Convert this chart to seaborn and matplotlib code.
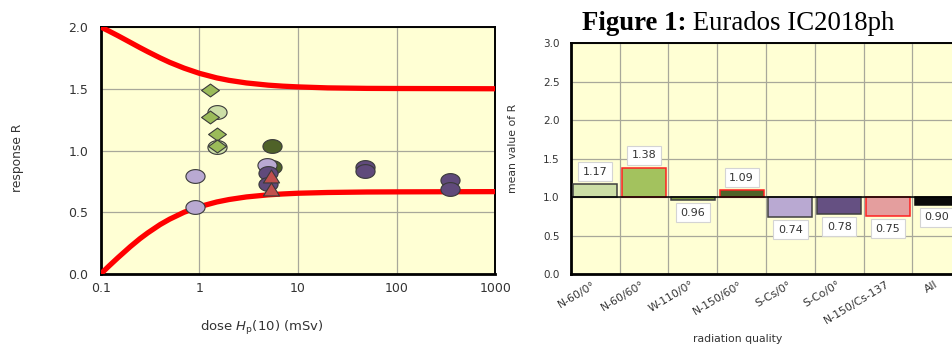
import matplotlib
matplotlib.use("Agg")
import matplotlib.pyplot as plt
import numpy as np
import seaborn as sns
from matplotlib.path import Path
from matplotlib.ticker import FixedLocator, FixedFormatter, NullLocator

# ─────────────────────────────────────────────
# DATA
# ─────────────────────────────────────────────
# trumpet curve limits
limit_dose = [0.1, 0.12, 0.15, 0.2, 0.25, 0.3, 0.4, 0.5, 0.7, 1, 1.5, 2, 3, 5, 7, 10, 20, 50, 100, 1000]
limit_upper = [2.0, 1.969, 1.929, 1.875, 1.833, 1.80, 1.75, 1.714, 1.667, 1.625, 1.588,
               1.568, 1.547, 1.529, 1.521, 1.515, 1.507, 1.503, 1.502, 1.50]
limit_lower = [0.0, 0.061, 0.133, 0.222, 0.286, 0.333, 0.40, 0.444, 0.50, 0.545, 0.583,
               0.603, 0.624, 0.641, 0.648, 0.654, 0.660, 0.664, 0.665, 0.667]

# individual responses, one group per radiation quality
n60_0_dose = [1.5, 1.5]
n60_0_resp = [1.31, 1.03]
n60_60_dose = [1.28, 1.27, 1.5, 1.5]
n60_60_resp = [1.49, 1.27, 1.13, 1.04]
n150_60_dose = [5.5, 5.5]
n150_60_resp = [1.04, 0.87]
scs_dose = [0.9, 0.9, 4.8]
scs_resp = [0.79, 0.54, 0.88]
sco_dose = [5.0, 5.0, 48, 48, 350, 350]
sco_resp = [0.82, 0.73, 0.87, 0.83, 0.76, 0.69]
n150cs_dose = [5.3, 5.3]
n150cs_resp = [0.79, 0.69]

# mean response per radiation quality (right panel)
qualities = ["N-60/0°", "N-60/60°", "W-110/0°", "N-150/60°", "S-Cs/0°", "S-Co/0°", "N-150/Cs-137", "All"]
mean_r = [1.17, 1.38, 0.96, 1.09, 0.74, 0.78, 0.75, 0.90]
bar_colors = ["#CCDEA6", "#A3C25E", "#77933C", "#4F6228", "#B9A9D2", "#655082", "#E49E9E", "#0A0A0A"]
bar_edges = ["#404040", "#FF2020", "#404040", "#FF2020", "#404040", "#404040", "#FF2020", "#0A0A0A"]

# ─────────────────────────────────────────────
# STYLE
# ─────────────────────────────────────────────
BG = "#FFFFD4"
GRID = "#A8A89A"
TXT = "#333333"

plt.rcParams["font.family"] = ["DejaVu Sans"]
plt.rcParams["mathtext.fontset"] = "dejavusans"


def ellipse_marker(ry):
    t = np.linspace(0, 2 * np.pi, 60)
    return Path(np.column_stack([np.cos(t), ry * np.sin(t)]), closed=True)


CIRCLE = ellipse_marker(0.72)
DIAMOND = Path([(0, 0.72), (1, 0), (0, -0.72), (-1, 0), (0, 0.72)], closed=True)
TRIANGLE = Path([(-1, -0.8), (1, -0.8), (0, 0.8), (-1, -0.8)], closed=True)

fig = plt.figure(figsize=(9.53, 3.45), dpi=100)

# ─────────────────────────────────────────────
# LEFT PANEL: response vs dose
# ─────────────────────────────────────────────
ax1 = fig.add_axes([100.7 / 953, 71 / 345, 394.5 / 953, 247 / 345])
ax1.set_facecolor(BG)
ax1.set_xscale("log")

sns.lineplot(x=limit_dose, y=limit_upper, ax=ax1, color="#FF0000", lw=3.8, sort=False,
             estimator=None, zorder=3)
sns.lineplot(x=limit_dose, y=limit_lower, ax=ax1, color="#FF0000", lw=3.8, sort=False,
             estimator=None, zorder=3)

groups = [
    (n60_0_dose, n60_0_resp, CIRCLE, 190, "#CCDEA6"),
    (n60_60_dose, n60_60_resp, DIAMOND, 165, "#9BBB59"),
    (n150_60_dose, n150_60_resp, CIRCLE, 190, "#4F6228"),
    (scs_dose, scs_resp, CIRCLE, 190, "#B9A9D2"),
    (sco_dose, sco_resp, CIRCLE, 190, "#604A7B"),
    (n150cs_dose, n150cs_resp, TRIANGLE, 135, "#C0504D"),
]
for z, (gx, gy, mk, size, col) in enumerate(groups):
    sns.scatterplot(x=gx, y=gy, ax=ax1, marker=mk, s=size, color=col,
                    edgecolor="#3A3A3A", linewidth=0.8, zorder=4 + z)

ax1.set_xlim(0.1, 1000)
ax1.set_ylim(0, 2.0)
ax1.xaxis.set_major_locator(FixedLocator([0.1, 1, 10, 100, 1000]))
ax1.xaxis.set_major_formatter(FixedFormatter(["0.1", "1", "10", "100", "1000"]))
ax1.xaxis.set_minor_locator(NullLocator())
ax1.set_yticks([0.0, 0.5, 1.0, 1.5, 2.0])
ax1.set_yticklabels(["0.0", "0.5", "1.0", "1.5", "2.0"])
ax1.grid(True, color=GRID, lw=0.9, zorder=0)
ax1.set_axisbelow(True)
ax1.tick_params(axis="y", length=0, pad=9, labelsize=9, labelcolor=TXT)
ax1.tick_params(axis="x", length=0, pad=6, labelsize=9, labelcolor=TXT)
ax1.set_xlabel(r"dose $H_\mathrm{p}$(10) (mSv)", fontsize=9.5, color=TXT, va="center")
ax1.xaxis.set_label_coords((262 - 100.7) / 394.5, (274 - 328) / 247)
ax1.set_ylabel("response R", fontsize=8.8, color=TXT, va="center")
ax1.yaxis.set_label_coords((17 - 100.7) / 394.5, (274 - 157.5) / 247)
for side in ["left", "bottom"]:
    ax1.spines[side].set_linewidth(2.0)
for side in ["top", "right"]:
    ax1.spines[side].set_linewidth(1.4)

# ─────────────────────────────────────────────
# RIGHT PANEL: mean response per radiation quality
# ─────────────────────────────────────────────
ax2 = fig.add_axes([570.7 / 953, 71 / 345, 390.6 / 953, 230.7 / 345])
ax2.set_facecolor(BG)

deltas = [v - 1.0 for v in mean_r]
sns.barplot(x=qualities, y=deltas, hue=qualities, palette=bar_colors, bottom=1.0, width=0.9,
            saturation=1, errorbar=None, legend=False, ax=ax2, zorder=3)
for patch, ec in zip(ax2.patches, bar_edges):
    patch.set_edgecolor(ec)
    patch.set_linewidth(1.1)

ax2.axhline(1.0, color="black", lw=1.1, zorder=4)

for i, v in enumerate(mean_r):
    off = 12.5 if v > 1 else -12.5
    ax2.annotate(f"{v:.2f}", xy=(i, v), xytext=(0, off), textcoords="offset pixels",
                 ha="center", va="center", fontsize=8, color=TXT, zorder=5,
                 bbox=dict(boxstyle="square,pad=0.42", fc="white", ec="#D4D4D4", lw=0.8))

ax2.set_xlim(-0.5, 7.5)
ax2.set_ylim(0, 3.0)
ax2.set_yticks(np.arange(0, 3.01, 0.5))
ax2.set_yticklabels([f"{t:.1f}" for t in np.arange(0, 3.01, 0.5)])
ax2.xaxis.set_minor_locator(FixedLocator(np.arange(-0.5, 8, 1.0)))
ax2.grid(True, which="minor", axis="x", color=GRID, lw=0.9, zorder=0)
ax2.grid(True, which="major", axis="y", color=GRID, lw=0.9, zorder=0)
ax2.grid(False, which="major", axis="x")
ax2.set_axisbelow(True)
ax2.tick_params(axis="both", which="both", length=0)
ax2.tick_params(axis="y", pad=8, labelsize=7.5, labelcolor=TXT)
ax2.tick_params(axis="x", pad=7, labelsize=7.8, labelcolor=TXT)
plt.setp(ax2.get_xticklabels(), rotation=31, ha="right", va="center", rotation_mode="anchor")
ax2.set_xlabel("radiation quality", fontsize=7.8, color=TXT, va="center")
ax2.xaxis.set_label_coords((738 - 570.7) / 390.6, (274 - 339) / 230.7)
ax2.set_ylabel("mean value of R", fontsize=7.8, color=TXT, va="center")
ax2.yaxis.set_label_coords((513 - 570.7) / 390.6, (274 - 148.5) / 230.7)
for side in ["left", "bottom"]:
    ax2.spines[side].set_linewidth(2.0)
ax2.spines["top"].set_linewidth(1.4)
ax2.spines["right"].set_linewidth(1.4)

# ─────────────────────────────────────────────
# TITLE
# ─────────────────────────────────────────────
t1 = fig.text(581.7 / 953, 1 - 30.5 / 345, "Figure 1:", fontsize=19.3, fontweight="bold",
              family="Liberation Serif", va="baseline", ha="left")
ax2.annotate(" Eurados IC2018ph", xy=(1, 0), xycoords=t1, fontsize=19.3,
             family="Liberation Serif", va="bottom", ha="left", annotation_clip=False)

fig.savefig("out.png", dpi=100)
